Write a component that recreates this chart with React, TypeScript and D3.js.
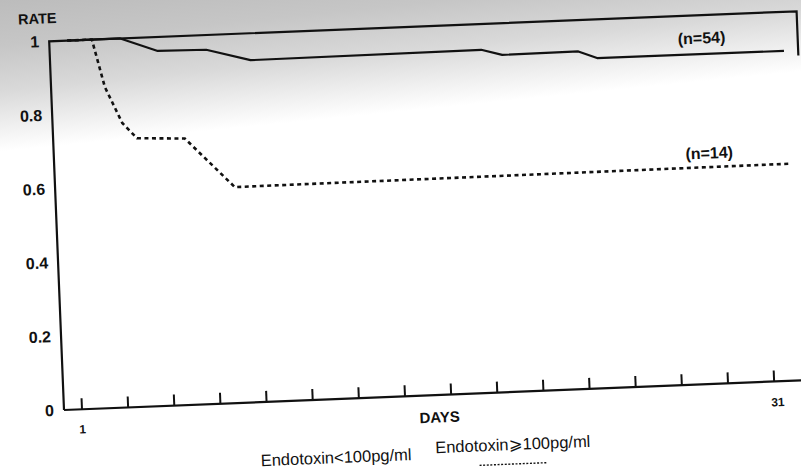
import React, { useEffect, useRef } from 'react';
import * as d3 from 'd3';

// days on the x axis, tick every 2 days
const dayTicks = [1, 3, 5, 7, 9, 11, 13, 15, 17, 19, 21, 23, 25, 27, 29, 31];
const dayLabelDays = [1, 31];
const dayLabels = ['1', '31'];
const rateTicks = [0, 0.2, 0.4, 0.6, 0.8, 1];
const rateLabels = ['0', '0.2', '0.4', '0.6', '0.8', '1'];

// Endotoxin < 100pg/ml (n=54)
const lowDays = [1, 3.3, 4.9, 7.0, 8.9, 18.9, 19.8, 23.1, 23.9, 32];
const lowRate = [1, 1, 0.962, 0.96, 0.927, 0.93, 0.914, 0.915, 0.895, 0.894];
// Endotoxin >= 100pg/ml (n=14)
const highDays = [1, 2.07, 2.55, 3.24, 3.85, 5.92, 8.0, 32];
const highRate = [1, 1, 0.87, 0.771, 0.728, 0.722, 0.585, 0.588];

const seriesNames = ['Endotoxin<100pg/ml', 'Endotoxin⩾100pg/ml'];
const seriesCounts = ['(n=54)', '(n=14)'];

const W = 801;
const H = 469;
const FONT = "'Liberation Sans', Arial, Helvetica, sans-serif";

const App = () => {
  const svgRef = useRef<SVGSVGElement>(null);

  useEffect(() => {
    const svg = d3.select(svgRef.current);
    svg.selectAll('*').remove();

    // scanned page background: grey halftone fading out downwards
    const grad = svg.append('defs').append('linearGradient')
      .attr('id', 'bg')
      .attr('gradientUnits', 'userSpaceOnUse')
      .attr('x1', 0).attr('y1', 0).attr('x2', 15).attr('y2', 150);
    [[0, '#bcbcbc'], [0.3, '#c6c6c6'], [0.6, '#d9d9d9'], [0.85, '#f1f1f1'], [1, '#ffffff']]
      .forEach(([o, c]) => grad.append('stop').attr('offset', o as number).attr('stop-color', c as string));
    svg.append('rect').attr('width', W).attr('height', H).attr('fill', 'url(#bg)');

    // the page is slightly tilted in the scan
    const g = svg.append('g').attr('transform', 'translate(64,410) rotate(-2.3)');

    const x = d3.scaleLinear().domain([1, 31]).range([18, 710.7]);
    const y = d3.scaleLinear().domain([0, 1]).range([0, -369]);

    const ink = '#111';

    // frame
    g.append('path')
      .attr('d', `M0,${y(0)}V${y(1)}H748V${y(0.88)}`)
      .attr('fill', 'none').attr('stroke', ink).attr('stroke-width', 2.2);
    g.append('line')
      .attr('x1', 0).attr('x2', 752).attr('y1', 0).attr('y2', 0)
      .attr('stroke', ink).attr('stroke-width', 2.2);

    g.selectAll('.tick')
      .data(dayTicks)
      .enter().append('line')
      .attr('x1', d => x(d)).attr('x2', d => x(d))
      .attr('y1', 0).attr('y2', -11)
      .attr('stroke', ink).attr('stroke-width', 2);

    g.selectAll('.dlab')
      .data(dayLabelDays)
      .enter().append('text')
      .attr('x', (d, i) => x(d) + (i === 1 ? 3 : 0))
      .attr('y', (d, i) => (i === 1 ? 21 : 20))
      .attr('text-anchor', 'middle').attr('dominant-baseline', 'central')
      .attr('font-family', FONT).attr('font-weight', 'bold').attr('font-size', 12)
      .attr('fill', ink)
      .text((d, i) => dayLabels[i]);

    g.selectAll('.rlab')
      .data(rateTicks)
      .enter().append('text')
      .attr('x', -10)
      .attr('y', d => y(d))
      .attr('text-anchor', 'end').attr('dominant-baseline', 'central')
      .attr('font-family', FONT).attr('font-weight', 'bold').attr('font-size', 16)
      .attr('fill', ink)
      .text((d, i) => rateLabels[i]);

    g.append('text')
      .attr('x', -11).attr('y', -392)
      .attr('text-anchor', 'middle').attr('dominant-baseline', 'central')
      .attr('font-family', FONT).attr('font-weight', 'bold').attr('font-size', 14.5)
      .attr('fill', ink).text('RATE');

    g.append('text')
      .attr('x', 375).attr('y', 22)
      .attr('text-anchor', 'middle').attr('dominant-baseline', 'central')
      .attr('font-family', FONT).attr('font-weight', 'bold').attr('font-size', 15)
      .attr('fill', ink).text('DAYS');

    const line = d3.line<[number, number]>()
      .x(d => x(d[0]))
      .y(d => y(d[1]));

    g.append('path')
      .datum(lowDays.map((d, i) => [d, lowRate[i]] as [number, number]))
      .attr('fill', 'none').attr('stroke', ink).attr('stroke-width', 2.2)
      .attr('stroke-linejoin', 'round')
      .attr('d', line);

    g.append('path')
      .datum(highDays.map((d, i) => [d, highRate[i]] as [number, number]))
      .attr('fill', 'none').attr('stroke', ink).attr('stroke-width', 2.6)
      .attr('stroke-dasharray', '4,3.5')
      .attr('d', line);

    // n labels
    g.append('text')
      .attr('x', 652).attr('y', y(0.938))
      .attr('text-anchor', 'middle').attr('dominant-baseline', 'central')
      .attr('font-family', FONT).attr('font-weight', 'bold').attr('font-size', 16)
      .attr('fill', ink).text(seriesCounts[0]);
    g.append('text')
      .attr('x', 655).attr('y', y(0.626))
      .attr('text-anchor', 'middle').attr('dominant-baseline', 'central')
      .attr('font-family', FONT).attr('font-weight', 'bold').attr('font-size', 16)
      .attr('fill', ink).text(seriesCounts[1]);

    // legend
    const legend = [
      { cx: 270, cy: 58, dash: null },
      { cx: 447, cy: 52, dash: '2,1.6' },
    ];
    legend.forEach((l, i) => {
      g.append('text')
        .attr('x', l.cx).attr('y', l.cy)
        .attr('text-anchor', 'middle').attr('dominant-baseline', 'central')
        .attr('font-family', FONT).attr('font-size', 16.5)
        .attr('fill', ink).text(seriesNames[i]);
      g.append('line')
        .attr('x1', l.cx - 34).attr('x2', l.cx + 34)
        .attr('y1', l.cy + 20).attr('y2', l.cy + 20)
        .attr('stroke', ink).attr('stroke-width', 1.4)
        .attr('stroke-dasharray', l.dash);
    });
  }, []);

  return (
    <svg
      ref={svgRef}
      width={W}
      height={H}
      style={{ position: 'absolute', left: 0, top: 0, display: 'block' }}
    />
  );
};

export default App;
